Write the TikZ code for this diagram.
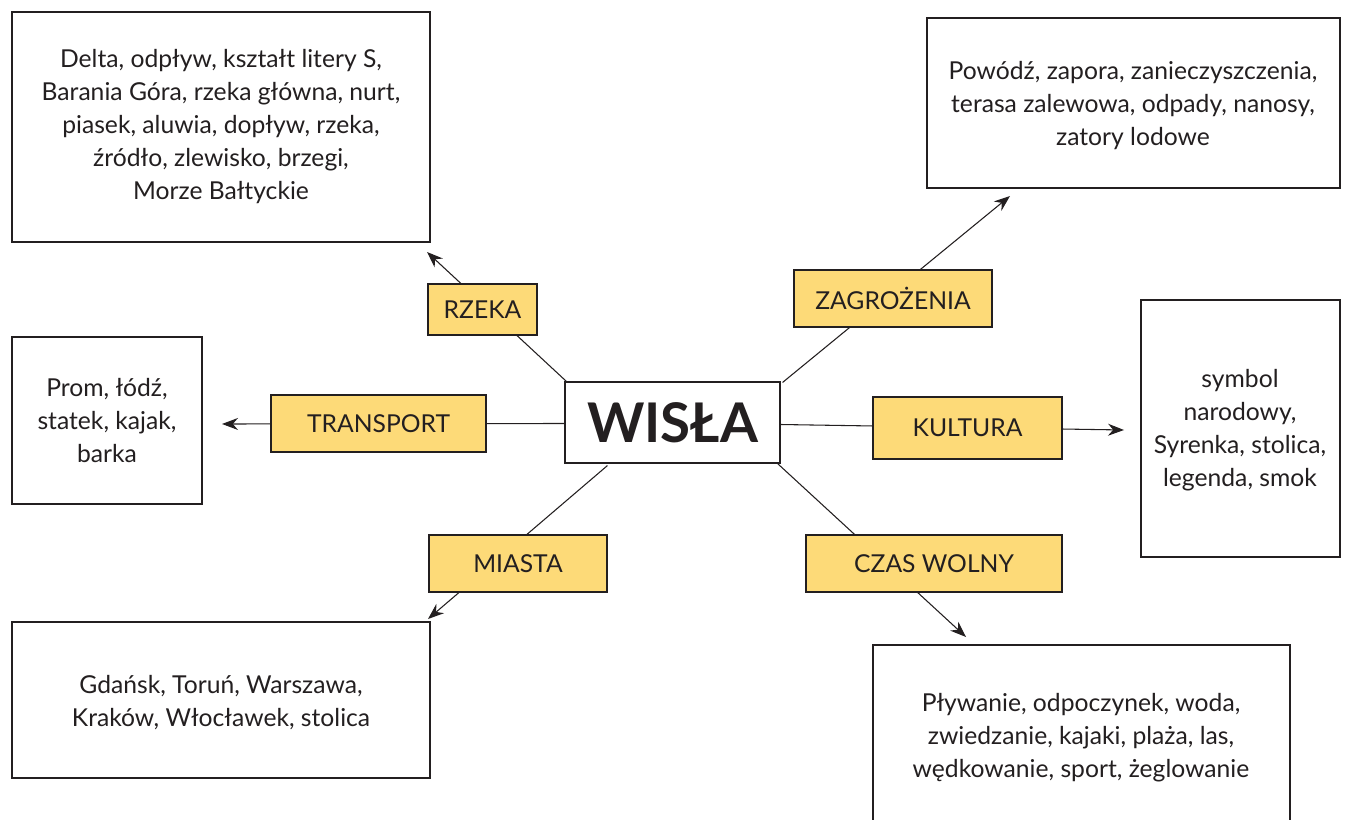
\documentclass[tikz,border=0pt]{standalone}
\usepackage{fontspec}
\setmainfont{Lato}
\usetikzlibrary{arrows.meta}
\definecolor{lab}{RGB}{253,218,120}
\definecolor{ink}{RGB}{35,31,32}
\begin{document}
\begin{tikzpicture}[x=0.75pt,y=-0.75pt,
  txt/.style={font=\fontsize{18.5}{24.75}\selectfont, text=ink, align=center},
  infobox/.style={draw=ink, line width=0.8pt, fill=white},
  labbox/.style={draw=ink, line width=0.8pt, fill=lab, inner sep=0pt, txt},
  conn/.style={draw=ink, line width=0.8pt},
  arr/.style={conn, -{Stealth[length=12pt,width=9pt]}}]
\useasboundingbox (0,0) rectangle (1353,820);
\begin{scope}
\clip (0,0) rectangle (1353,820);
% info boxes
\draw[infobox] (12,12) rectangle (430,242);
\node[txt] (trzeka) at (221,127) {Delta, odpływ, kształt litery S,\\Barania Góra, rzeka główna, nurt,\\piasek, aluwia, dopływ, rzeka,\\źródło, zlewisko, brzegi,\\Morze Bałtyckie};
\draw[infobox] (927,18) rectangle (1340,188);
\node[txt] (tzagr) at (1133,106) {Powódź, zapora, zanieczyszczenia,\\terasa zalewowa, odpady, nanosy,\\zatory lodowe};
\draw[infobox] (1141,300) rectangle (1340,557);
\node[txt] (tkult) at (1240,430) {symbol\\narodowy,\\Syrenka, stolica,\\legenda, smok};
\draw[infobox] (12,337) rectangle (202,504);
\node[txt] (ttrans) at (107,421) {Prom, łódź,\\statek, kajak,\\barka};
\draw[infobox] (12,622) rectangle (430,778);
\node[txt] (tmiasta) at (221,703) {Gdańsk, Toruń, Warszawa,\\Kraków, Włocławek, stolica};
\draw[infobox] (873,645) rectangle (1290,830);
\node[txt] (tczas) at (1081,738) {Pływanie, odpoczynek, woda,\\zwiedzanie, kajaki, plaża, las,\\wędkowanie, sport, żeglowanie};
\end{scope}
% centre
\node[draw=ink, line width=0.8pt, fill=white, minimum width=161.25pt, minimum height=60.75pt, inner sep=0pt, font=\fontsize{41}{41}\selectfont\bfseries, text=ink] (wisla) at (672.5,422.5) {WISŁA};
% arrow tips
\coordinate (ar) at (427,252);
\coordinate (az) at (1010,196);
\coordinate (at) at (222,424);
\coordinate (ak) at (1124,430);
\coordinate (am) at (428,619);
\coordinate (ac) at (966,637);
% connectors
\draw[arr] (wisla.north west) ++(2,0) -- (ar);
\draw[arr] (wisla.north east) ++(2,1) -- (az);
\draw[arr] (wisla.west) ++(0,1) -- (at);
\draw[arr] (wisla.east) ++(0,2) -- (ak);
\draw[arr] (wisla.south west) ++(43,2) -- (am);
\draw[arr] (wisla.south east) ++(-3,0) -- (ac);
% labels
\node[labbox, minimum width=81.75pt, minimum height=38.25pt] (lrzeka) at (482.5,309.5) {RZEKA};
\node[labbox, minimum width=148.5pt, minimum height=42.75pt] (lzagr) at (893,298.5) {ZAGROŻENIA};
\node[labbox, minimum width=161.25pt, minimum height=42.75pt] (ltrans) at (378.5,423.5) {TRANSPORT};
\node[labbox, minimum width=141.75pt, minimum height=46.5pt] (lkult) at (967.5,428) {KULTURA};
\node[labbox, minimum width=133.5pt, minimum height=42.75pt] (lmiasta) at (518,563.5) {MIASTA};
\node[labbox, minimum width=192pt, minimum height=42.75pt] (lczas) at (934,563.5) {CZAS WOLNY};
\end{tikzpicture}
\end{document}
